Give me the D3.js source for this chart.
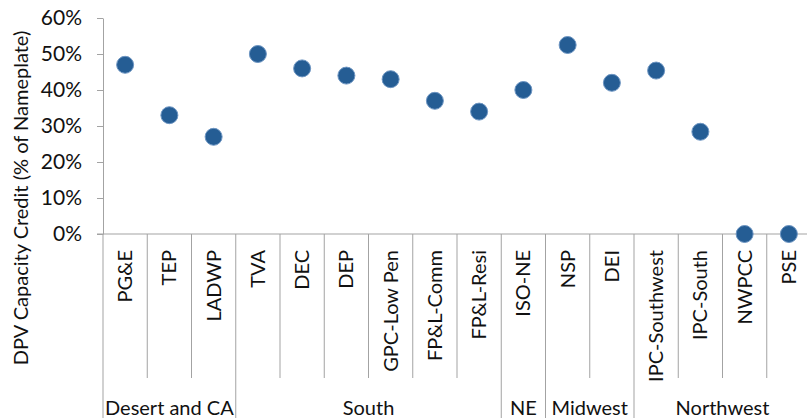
<!DOCTYPE html>
<html>
<head>
<meta charset="utf-8">
<script src="https://cdn.jsdelivr.net/npm/d3@7/dist/d3.min.js"></script>
<style>
  html, body { margin: 0; padding: 0; background: #fff; }
  svg { display: block; }
  text { font-family: Lato, "Open Sans", sans-serif; fill: #111; }
</style>
</head>
<body>
<svg id="chart" width="807" height="418"></svg>
<script>
const categories = ["PG&E", "TEP", "LADWP", "TVA", "DEC", "DEP", "GPC-Low Pen", "FP&L-Comm", "FP&L-Resi",
  "ISO-NE", "NSP", "DEI", "IPC-Southwest", "IPC-South", "NWPCC", "PSE"];
const values = [0.47, 0.33, 0.27, 0.50, 0.46, 0.44, 0.43, 0.37, 0.34, 0.40, 0.525, 0.42, 0.454, 0.284, 0.0, 0.0];
const groupNames = ["Desert and CA", "South", "NE", "Midwest", "Northwest"];
const groupSizes = [3, 6, 1, 2, 4];
const yTicks = [0, 0.1, 0.2, 0.3, 0.4, 0.5, 0.6];
const yTitle = "DPV Capacity Credit (% of Nameplate)";

const svg = d3.select("#chart");
const plotLeft = 103, plotTop = 18, axisY = 234, step = 44.25;
const innerLineBottom = 378, groupLineBottom = 418;
const fontSize = 20;
const tickFontSize = 21;
const axisColor = "#a3a3a3";

const x = d3.scaleBand().domain(categories).range([plotLeft, plotLeft + step * categories.length]).padding(0);
const y = d3.scaleLinear().domain([0, 0.6]).range([axisY, plotTop]);

// Y axis
const yAxis = svg.append("g")
  .attr("transform", `translate(${plotLeft},0)`)
  .call(d3.axisLeft(y).tickValues(yTicks).tickFormat(d3.format(".0%")).tickSize(6).tickSizeOuter(0).tickPadding(15));
yAxis.select(".domain").attr("stroke", axisColor);
yAxis.selectAll(".tick line").attr("stroke", axisColor);
yAxis.selectAll(".tick text")
  .style("font-family", "Lato, 'Open Sans', sans-serif")
  .style("font-size", tickFontSize + "px")
  .attr("fill", "#111");

// Y title
svg.append("text")
  .attr("transform", `translate(28,${198}) rotate(-90)`)
  .attr("text-anchor", "middle")
  .style("font-size", fontSize + "px")
  .text(yTitle);

// X axis baseline
svg.append("line")
  .attr("x1", plotLeft - 6).attr("x2", 807)
  .attr("y1", axisY).attr("y2", axisY)
  .attr("stroke", axisColor);

// group start indices
const groupStarts = [];
let acc = 0;
groupSizes.forEach(s => { groupStarts.push(acc); acc += s; });

// category boundaries
const boundaries = d3.range(categories.length + 1);
const bx = i => i < categories.length ? x(categories[i]) : x(categories[i - 1]) + x.bandwidth();
svg.append("g").selectAll("line")
  .data(boundaries)
  .join("line")
  .attr("x1", bx)
  .attr("x2", bx)
  .attr("y1", axisY)
  .attr("y2", i => (groupStarts.includes(i) || i === categories.length) ? groupLineBottom : innerLineBottom)
  .attr("stroke", axisColor);

// category labels
svg.append("g").selectAll("text")
  .data(categories)
  .join("text")
  .attr("transform", d => `translate(${x(d) + x.bandwidth() / 2},${axisY + 16}) rotate(-90)`)
  .attr("text-anchor", "end")
  .attr("dy", "0.35em")
  .style("font-size", fontSize + "px")
  .text(d => d);

// group labels
svg.append("g").selectAll("text")
  .data(groupNames)
  .join("text")
  .attr("x", (d, i) => {
    const a = x(categories[groupStarts[i]]);
    const lastIdx = groupStarts[i] + groupSizes[i] - 1;
    const b = x(categories[lastIdx]) + x.bandwidth();
    return (a + b) / 2;
  })
  .attr("y", 415)
  .attr("text-anchor", "middle")
  .style("font-size", fontSize + "px")
  .text(d => d);

// points
svg.append("g").selectAll("circle")
  .data(categories.map((c, i) => ({ c, v: values[i] })))
  .join("circle")
  .attr("cx", d => x(d.c) + x.bandwidth() / 2)
  .attr("cy", d => y(d.v))
  .attr("r", 8.5)
  .attr("fill", "#255d94")
  .attr("stroke", "#6d95c2")
  .attr("stroke-width", 1);
</script>
</body>
</html>
